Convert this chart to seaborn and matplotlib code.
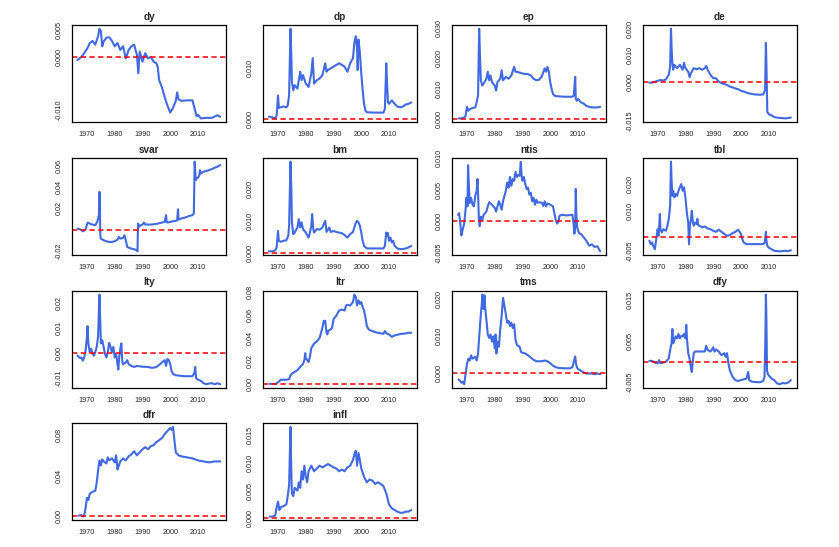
import matplotlib
matplotlib.use("Agg")
import matplotlib.pyplot as plt
import seaborn as sns
import pandas as pd

# ---- data (year, value) ----
dy_years = [1966.6, 1967.5, 1968, 1969, 1970, 1970.5, 1971, 1972, 1973, 1974, 1974.5, 1975, 1975.5, 1976, 1977, 1978, 1979, 1980, 1981, 1982, 1983, 1984, 1985, 1986, 1987, 1987.5, 1988, 1988.5, 1989, 1990, 1991, 1992, 1993, 1994, 1995, 1995.5, 1996, 1997, 1998, 1999, 2000, 2001, 2002, 2002.5, 2003, 2004, 2006, 2008, 2009, 2009.5, 2010, 2011, 2013, 2015, 2017, 2018]
dy_vals = [-0.0006, -0.0002, 0.0000, 0.0007, 0.0015, 0.0020, 0.0026, 0.0030, 0.0023, 0.0039, 0.0053, 0.0049, 0.0020, 0.0029, 0.0036, 0.0037, 0.0030, 0.0020, 0.0026, 0.0013, 0.0020, -0.0003, 0.0013, 0.0020, 0.0023, 0.0013, 0.0004, -0.0031, 0.0010, -0.0009, 0.0007, -0.0003, 0.0000, -0.0009, -0.0012, -0.0019, -0.0044, -0.0057, -0.0076, -0.0092, -0.0105, -0.0096, -0.0083, -0.0067, -0.0080, -0.0083, -0.0082, -0.0082, -0.0102, -0.0112, -0.0109, -0.0116, -0.0115, -0.0115, -0.0110, -0.0113]

dp_years = [1966.7, 1968, 1969, 1969.5, 1970, 1970.3, 1971, 1972, 1973, 1973.5, 1974, 1974.5, 1974.8, 1975, 1975.5, 1976, 1977, 1978, 1978.5, 1979, 1980, 1981, 1982, 1982.5, 1983, 1984, 1985, 1986, 1987, 1987.5, 1988, 1990, 1992, 1993, 1994, 1995, 1996, 1997, 1997.5, 1998, 1998.5, 1998.7, 1999, 1999.5, 2000, 2000.5, 2001, 2001.5, 2002, 2005, 2008, 2008.5, 2009, 2009.3, 2009.6, 2010, 2011, 2012, 2013, 2014, 2015, 2016, 2017, 2018]
dp_vals = [0.00047, 0.00033, 0.00013, 0.00067, 0.00467, 0.0022, 0.00233, 0.00247, 0.00233, 0.00267, 0.00467, 0.0178, 0.01233, 0.00733, 0.00567, 0.00667, 0.006, 0.00933, 0.00767, 0.00867, 0.007, 0.00633, 0.009, 0.012, 0.007, 0.00767, 0.008, 0.00867, 0.011, 0.00933, 0.00967, 0.01033, 0.011, 0.01067, 0.01033, 0.00933, 0.011, 0.012, 0.015, 0.01633, 0.014, 0.00967, 0.01567, 0.013, 0.009, 0.00567, 0.003, 0.00167, 0.00133, 0.00127, 0.00127, 0.002, 0.011, 0.007, 0.00333, 0.003, 0.00367, 0.003, 0.00247, 0.00233, 0.00247, 0.00287, 0.003, 0.00327]

ep_years = [1967, 1968, 1969, 1969.5, 1970, 1970.5, 1971, 1972, 1973, 1973.5, 1974, 1974.4, 1974.7, 1975, 1975.5, 1976, 1977, 1977.5, 1978, 1978.5, 1979, 1980, 1980.5, 1981, 1982, 1982.5, 1983, 1984, 1985, 1986, 1987, 1987.5, 1988, 1990, 1992, 1993, 1994, 1995, 1996, 1997, 1998, 1998.5, 1999, 1999.5, 2000, 2000.5, 2001, 2001.5, 2002, 2005, 2008, 2008.5, 2009, 2009.2, 2009.6, 2010, 2011, 2012, 2013, 2014, 2015, 2017, 2018]
ep_vals = [0.0003, 0.0003, 0.0006, 0.0011, 0.0041, 0.0028, 0.0033, 0.0037, 0.0039, 0.0056, 0.0078, 0.0297, 0.0206, 0.0128, 0.0111, 0.0117, 0.0133, 0.0156, 0.0128, 0.0144, 0.0122, 0.0111, 0.0094, 0.0122, 0.0133, 0.0161, 0.0128, 0.0139, 0.0133, 0.0144, 0.0172, 0.0156, 0.0156, 0.015, 0.0148, 0.0144, 0.0133, 0.0128, 0.013, 0.0141, 0.0167, 0.0156, 0.0172, 0.0156, 0.0122, 0.01, 0.0083, 0.0078, 0.0076, 0.0074, 0.0074, 0.0078, 0.0139, 0.0067, 0.0061, 0.0067, 0.0056, 0.0052, 0.0044, 0.0041, 0.0039, 0.0039, 0.0041]

de_years = [1967, 1968, 1969, 1970, 1971, 1972, 1973, 1974, 1974.5, 1974.8, 1975, 1975.3, 1975.6, 1976, 1977, 1978, 1979, 1979.5, 1980, 1981, 1981.5, 1982, 1983, 1984, 1985, 1986, 1987, 1987.5, 1988, 1989, 1990, 1991, 1992, 1993, 1994, 1995, 1996, 1997, 1998, 1999, 2000, 2001, 2002, 2003, 2005, 2007, 2008, 2008.7, 2009, 2009.2, 2009.5, 2010, 2011, 2012, 2013, 2014, 2016, 2018]
de_vals = [-0.0004, -0.0004, -0.0001, 0.0003, 0.0006, 0.0004, 0.0009, 0.0026, 0.0058, 0.0201, 0.0135, 0.0071, 0.0045, 0.0064, 0.0051, 0.0064, 0.0045, 0.0071, 0.0051, 0.0038, 0.0017, 0.0032, 0.0051, 0.0047, 0.0051, 0.0045, 0.0051, 0.006, 0.0045, 0.0026, 0.0013, 0.0013, 0.0, -0.0006, -0.0009, -0.0013, -0.0019, -0.0022, -0.0026, -0.0029, -0.0035, -0.0038, -0.0042, -0.0045, -0.0049, -0.005, -0.0049, -0.0032, 0.0147, 0.0058, -0.0115, -0.0124, -0.0128, -0.0135, -0.0137, -0.0138, -0.014, -0.0137]

svar_years = [1966.6, 1967.5, 1968, 1968.5, 1969, 1969.5, 1970, 1970.3, 1971, 1972, 1973, 1973.7, 1974, 1974.3, 1974.5, 1974.7, 1974.8, 1975, 1976, 1977, 1978, 1979, 1980, 1981, 1981.5, 1982, 1983, 1983.5, 1984, 1984.5, 1985, 1986, 1987, 1988, 1988.2, 1988.4, 1988.8, 1989, 1990, 1990.5, 1991, 1993, 1995, 1997, 1998, 1998.5, 1998.7, 1999, 2000, 2001, 2002, 2002.5, 2002.8, 2003, 2004, 2005, 2006, 2007, 2008, 2008.5, 2008.8, 2009.2, 2009.5, 2010, 2010.5, 2010.7, 2011, 2012, 2013, 2014, 2015, 2016, 2017, 2018]
svar_vals = [0.0009, 0.0003, -0.0006, -0.0016, -0.0009, 0.0003, 0.0047, 0.0066, 0.0056, 0.0047, 0.0041, 0.0072, 0.0104, 0.0135, 0.0354, 0.0135, -0.0053, -0.0085, -0.01, -0.011, -0.0116, -0.0116, -0.011, -0.0094, -0.0069, -0.0085, -0.0078, -0.0053, -0.01, -0.0163, -0.0169, -0.0179, -0.0185, -0.0194, -0.0204, 0.0056, 0.0025, 0.0035, 0.0047, 0.0066, 0.0047, 0.0047, 0.0053, 0.0066, 0.0072, 0.0135, 0.0072, 0.0066, 0.0072, 0.0078, 0.0082, 0.0088, 0.0191, 0.0094, 0.0104, 0.011, 0.0119, 0.0129, 0.0135, 0.0151, 0.0637, 0.0464, 0.048, 0.0486, 0.0511, 0.0558, 0.0527, 0.0543, 0.0549, 0.0558, 0.0568, 0.058, 0.059, 0.0605]

bm_years = [1966.7, 1968, 1969, 1969.5, 1970, 1970.3, 1971, 1972, 1973, 1973.7, 1974, 1974.5, 1974.8, 1975, 1975.5, 1976, 1977, 1977.5, 1978, 1978.5, 1979, 1980, 1981, 1981.5, 1982, 1982.3, 1982.7, 1983, 1984, 1985, 1986, 1987, 1987.5, 1988, 1988.5, 1989, 1990, 1991, 1992, 1993, 1994, 1995, 1996, 1997, 1998, 1998.5, 1999, 1999.5, 2000, 2000.5, 2001, 2002, 2005, 2008, 2008.5, 2009, 2009.3, 2009.6, 2010, 2010.5, 2011, 2011.5, 2012, 2013, 2014, 2015, 2016, 2017, 2018]
bm_vals = [0.0004, 0.0004, 0.0007, 0.0016, 0.0068, 0.0037, 0.0034, 0.0037, 0.0039, 0.0053, 0.0084, 0.0286, 0.02, 0.0095, 0.0058, 0.0063, 0.0079, 0.0105, 0.0079, 0.0095, 0.0074, 0.0063, 0.0047, 0.0063, 0.0084, 0.0121, 0.0074, 0.0063, 0.0074, 0.0072, 0.0079, 0.01, 0.0065, 0.0072, 0.0079, 0.0065, 0.0068, 0.0065, 0.0063, 0.0061, 0.0055, 0.0047, 0.0058, 0.0065, 0.0093, 0.01, 0.0095, 0.0084, 0.0063, 0.0037, 0.0021, 0.0013, 0.0013, 0.0013, 0.0021, 0.0063, 0.0053, 0.0061, 0.0037, 0.0047, 0.0032, 0.0037, 0.0021, 0.0013, 0.0011, 0.0011, 0.0013, 0.0016, 0.0021]

ntis_years = [1966.8, 1967.2, 1967.6, 1968, 1968.4, 1969, 1969.5, 1969.8, 1970.2, 1970.4, 1970.7, 1971, 1971.5, 1972, 1972.5, 1973, 1973.5, 1973.8, 1974, 1974.3, 1974.6, 1975, 1975.5, 1976, 1977, 1977.5, 1978, 1979, 1980, 1980.5, 1981, 1981.5, 1982, 1982.5, 1983, 1983.5, 1984, 1984.5, 1985, 1985.5, 1986, 1986.5, 1987, 1987.5, 1988, 1988.5, 1989, 1989.4, 1989.7, 1990, 1990.5, 1991, 1991.5, 1992, 1992.5, 1993, 1993.5, 1994, 1994.5, 1995, 1995.5, 1996, 1997, 1997.5, 1998, 1998.5, 1999, 2000, 2001, 2001.5, 2002, 2002.5, 2003, 2003.3, 2004, 2006, 2008, 2008.4, 2008.7, 2009, 2009.2, 2009.4, 2009.7, 2010, 2010.5, 2011, 2012, 2013, 2014, 2015, 2016, 2017, 2018]
ntis_vals = [0.001, 0.00125, -0.0004, -0.00228, -0.00147, -0.0004, 0.0018, 0.0037, 0.00234, 0.00886, 0.0056, 0.00288, 0.0037, 0.0026, 0.00234, 0.004, 0.0048, 0.00668, 0.0045, 0.00016, -0.0008, 0.0007, 0.00016, 0.001, 0.0015, 0.00234, 0.003, 0.0026, 0.0021, 0.0015, 0.00234, 0.00315, 0.0026, 0.0018, 0.00315, 0.004, 0.0048, 0.0061, 0.0053, 0.007, 0.0056, 0.00668, 0.0064, 0.0078, 0.007, 0.0073, 0.0072, 0.0094, 0.0072, 0.0064, 0.007, 0.0059, 0.0051, 0.0053, 0.0042, 0.0045, 0.00315, 0.0037, 0.0026, 0.0034, 0.0029, 0.003, 0.0029, 0.0024, 0.00315, 0.00234, 0.0028, 0.0026, 0.00234, 0.00125, 0.00016, -0.0004, -0.0001, 0.0008, 0.001, 0.0009, 0.001, -0.0004, -0.002, -0.0009, 0.0051, 0.00125, -0.0009, -0.00147, -0.002, -0.002, -0.00255, -0.0031, -0.0039, -0.0037, -0.0041, -0.004, -0.0048]

tbl_years = [1967, 1967.5, 1968, 1968.5, 1969, 1969.5, 1970, 1970.3, 1970.6, 1970.8, 1971, 1971.5, 1972, 1973, 1973.5, 1974, 1974.5, 1974.8, 1975, 1975.3, 1975.6, 1976, 1976.5, 1977, 1977.5, 1978, 1978.5, 1979, 1979.5, 1980, 1980.5, 1981, 1981.3, 1981.6, 1982, 1982.3, 1982.7, 1983, 1983.5, 1984, 1984.3, 1984.6, 1985, 1986, 1987, 1988, 1989, 1990, 1991, 1992, 1993, 1994, 1995, 1996, 1997, 1998, 1999, 1999.5, 2000, 2000.5, 2001, 2002, 2005, 2008, 2008.6, 2009, 2009.2, 2009.5, 2010, 2011, 2012, 2014, 2016, 2017, 2018]
tbl_vals = [-0.0012, -0.0025, -0.0019, -0.0034, -0.0044, -0.0006, 0.0031, 0.0006, 0.005, 0.0088, 0.0031, 0.0019, 0.0031, 0.0025, 0.0044, 0.0069, 0.0119, 0.0284, 0.0219, 0.0156, 0.0175, 0.015, 0.0163, 0.0156, 0.0175, 0.0188, 0.02, 0.0175, 0.0188, 0.015, 0.0094, 0.0056, -0.0025, 0.0044, 0.0069, 0.01, 0.0056, 0.0044, 0.0056, 0.005, 0.0069, 0.0046, 0.0044, 0.0038, 0.0041, 0.0034, 0.0031, 0.0025, 0.0021, 0.0029, 0.0021, 0.0013, 0.0006, 0.0009, 0.0016, 0.0021, 0.0029, 0.0021, 0.0013, -0.0006, -0.0019, -0.0025, -0.0025, -0.0025, -0.0019, 0.0021, -0.0012, -0.0031, -0.0038, -0.0044, -0.005, -0.0052, -0.005, -0.0051, -0.0048]

lty_years = [1966.6, 1967, 1967.5, 1968, 1968.5, 1969, 1969.5, 1970, 1970.2, 1970.5, 1971, 1971.5, 1972, 1972.5, 1973, 1973.5, 1974, 1974.5, 1974.8, 1975, 1975.5, 1976, 1976.5, 1977, 1977.5, 1978, 1978.5, 1979, 1979.5, 1980, 1980.5, 1981, 1981.3, 1981.6, 1982, 1982.4, 1982.7, 1983, 1984, 1984.5, 1985, 1986, 1987, 1988, 1990, 1992, 1993, 1994, 1995, 1996, 1997, 1998, 1998.5, 1999, 1999.5, 2000, 2000.5, 2001, 2002, 2005, 2008, 2008.7, 2009, 2009.3, 2010, 2011, 2012, 2013, 2014, 2015, 2016, 2017, 2018]
lty_vals = [-0.001, -0.0014, -0.0019, -0.0017, -0.003, -0.0017, 0.0011, 0.0066, 0.0108, 0.0039, 0.0004, 0.0018, -0.0003, -0.001, 0.0004, 0.0025, 0.0066, 0.0234, 0.0121, 0.0039, 0.0052, 0.0025, -0.0003, -0.0017, 0.0004, 0.0041, 0.0025, 0.0004, 0.0025, -0.0017, -0.0003, -0.0044, -0.0065, -0.0017, 0.0018, 0.0039, -0.003, -0.0044, -0.0037, -0.0028, -0.0044, -0.0051, -0.0055, -0.0051, -0.0054, -0.0055, -0.0058, -0.0058, -0.0055, -0.0047, -0.0037, -0.0028, -0.0051, -0.0023, -0.0028, -0.0044, -0.0072, -0.0083, -0.0088, -0.0092, -0.0092, -0.0079, -0.0055, -0.0099, -0.0106, -0.011, -0.012, -0.0124, -0.0121, -0.012, -0.0124, -0.012, -0.0124]

ltr_years = [1967, 1968, 1969, 1970, 1970.5, 1971, 1972, 1973, 1974, 1974.5, 1975, 1976, 1977, 1978, 1979, 1979.5, 1979.8, 1980, 1980.5, 1981, 1981.5, 1982, 1983, 1984, 1985, 1985.5, 1986, 1986.5, 1987, 1987.5, 1987.8, 1988, 1989, 1989.5, 1990, 1991, 1992, 1993, 1994, 1994.5, 1995, 1996, 1997, 1997.5, 1998, 1998.5, 1999, 1999.5, 2000, 2000.5, 2001, 2001.5, 2002, 2002.5, 2003, 2004, 2005, 2006, 2007, 2008, 2008.5, 2009, 2010, 2011, 2012, 2013, 2014, 2015, 2016, 2017, 2018]
ltr_vals = [0.0, 0.0, -0.0003, 0.0015, 0.0024, 0.0036, 0.0036, 0.0036, 0.0041, 0.0074, 0.0089, 0.0104, 0.0119, 0.0148, 0.0172, 0.0207, 0.0267, 0.0222, 0.0207, 0.019, 0.0237, 0.0311, 0.035, 0.037, 0.04, 0.0444, 0.0489, 0.0548, 0.0548, 0.0444, 0.043, 0.0459, 0.0474, 0.0489, 0.0563, 0.0593, 0.0637, 0.0646, 0.0637, 0.0681, 0.0687, 0.0681, 0.0711, 0.0776, 0.0756, 0.0681, 0.0726, 0.0696, 0.0711, 0.0667, 0.0637, 0.0578, 0.0504, 0.048, 0.0468, 0.0459, 0.045, 0.0444, 0.0439, 0.0436, 0.0459, 0.0439, 0.043, 0.0409, 0.0421, 0.0427, 0.0433, 0.0436, 0.0439, 0.0444, 0.0444]

tms_years = [1967, 1967.5, 1968, 1968.5, 1969, 1969.5, 1970, 1970.5, 1971, 1971.5, 1972, 1973, 1973.5, 1974, 1974.5, 1975, 1975.3, 1975.6, 1976, 1976.3, 1976.6, 1977, 1977.5, 1978, 1978.5, 1979, 1979.5, 1980, 1980.3, 1980.6, 1981, 1981.5, 1982, 1982.5, 1983, 1983.5, 1984, 1984.5, 1985, 1985.5, 1986, 1986.5, 1987, 1987.5, 1988, 1989, 1989.5, 1990, 1991, 1992, 1993, 1994, 1995, 1996, 1997, 1998, 1999, 2000, 2001, 2002, 2003, 2005, 2007, 2008, 2008.6, 2009, 2009.3, 2009.6, 2010, 2011, 2012, 2013, 2014, 2015, 2016, 2017, 2018]
tms_vals = [-0.0018, -0.0022, -0.0027, -0.0024, -0.0031, -0.0004, 0.0024, 0.0038, 0.0033, 0.0047, 0.0038, 0.0043, 0.0033, 0.0052, 0.0107, 0.0158, 0.0181, 0.0211, 0.0172, 0.0209, 0.0172, 0.0144, 0.0103, 0.0094, 0.0103, 0.0084, 0.0098, 0.0066, 0.0103, 0.0052, 0.0084, 0.007, 0.0117, 0.0154, 0.0202, 0.0181, 0.0158, 0.0135, 0.014, 0.0126, 0.0135, 0.0121, 0.0131, 0.0089, 0.0075, 0.007, 0.0056, 0.0054, 0.0052, 0.0047, 0.0041, 0.0035, 0.0031, 0.0031, 0.0031, 0.0033, 0.0031, 0.0026, 0.0019, 0.0015, 0.0013, 0.0012, 0.0012, 0.0015, 0.0033, 0.0044, 0.0024, 0.0015, 0.001, 0.0006, 0.0001, -0.0002, -0.0002, -0.0002, -0.0004, -0.0002, -0.0004]

dfy_years = [1967, 1968, 1969, 1970, 1970.5, 1971, 1972, 1973, 1974, 1974.5, 1975, 1975.3, 1975.6, 1976, 1976.5, 1977, 1977.5, 1978, 1978.5, 1979, 1979.5, 1980, 1980.3, 1980.6, 1981, 1981.5, 1982, 1982.3, 1982.6, 1983, 1983.5, 1985, 1987, 1987.5, 1988, 1989, 1989.5, 1990, 1990.5, 1991, 1992, 1993, 1994, 1994.5, 1995, 1995.5, 1996, 1997, 1998, 1999, 2000, 2001, 2002, 2002.6, 2003, 2004, 2006, 2007, 2008, 2008.5, 2008.8, 2009, 2009.2, 2009.4, 2009.7, 2010, 2011, 2012, 2013, 2014, 2015, 2016, 2017, 2018]
dfy_vals = [0.0002, 0.0002, -0.0002, -0.0004, 0.0004, -0.0004, -0.0002, 0.0, 0.0008, 0.0029, 0.0045, 0.008, 0.0045, 0.0053, 0.0062, 0.0057, 0.0068, 0.0057, 0.0063, 0.0062, 0.0068, 0.0057, 0.009, 0.0053, 0.0021, 0.0008, -0.0016, -0.0025, -0.0004, 0.0021, 0.0025, 0.0025, 0.0025, 0.0039, 0.0029, 0.0025, 0.0029, 0.0035, 0.0025, 0.003, 0.0025, 0.0016, 0.0021, 0.0012, 0.0021, -0.0004, -0.0021, -0.0037, -0.0045, -0.0047, -0.0045, -0.0043, -0.0041, -0.0025, -0.0045, -0.0049, -0.005, -0.005, -0.0047, -0.0037, 0.0053, 0.0164, 0.0094, -0.0021, -0.003, -0.0033, -0.0041, -0.0045, -0.0053, -0.0055, -0.0052, -0.0053, -0.0051, -0.0045]

dfr_years = [1967, 1968, 1968.5, 1969, 1969.5, 1970, 1970.5, 1971, 1972, 1973, 1973.5, 1974, 1974.5, 1975, 1975.5, 1976, 1977, 1977.5, 1978, 1979, 1980, 1980.5, 1981, 1981.5, 1982, 1983, 1984, 1985, 1986, 1987, 1988, 1989, 1990, 1991, 1992, 1993, 1994, 1995, 1996, 1997, 1998, 1999, 2000, 2000.5, 2001, 2001.5, 2002, 2003, 2004, 2006, 2008, 2009, 2010, 2012, 2014, 2016, 2018]
dfr_vals = [0.0005, 0.001, -0.0005, 0.001, 0.008, 0.018, 0.016, 0.022, 0.024, 0.025, 0.033, 0.045, 0.055, 0.05, 0.056, 0.054, 0.052, 0.058, 0.055, 0.057, 0.053, 0.06, 0.046, 0.05, 0.054, 0.057, 0.055, 0.059, 0.061, 0.064, 0.06, 0.063, 0.066, 0.068, 0.066, 0.069, 0.07, 0.073, 0.075, 0.077, 0.081, 0.084, 0.087, 0.085, 0.088, 0.075, 0.063, 0.06, 0.059, 0.058, 0.057, 0.056, 0.055, 0.054, 0.053, 0.054, 0.054]

infl_years = [1967, 1968, 1969, 1969.5, 1970, 1970.5, 1971, 1972, 1973, 1973.5, 1974, 1974.5, 1974.8, 1975, 1975.5, 1976, 1977, 1977.5, 1978, 1978.5, 1979, 1979.5, 1980, 1980.5, 1981, 1982, 1983, 1984, 1985, 1986, 1987, 1988, 1989, 1990, 1991, 1992, 1993, 1994, 1995, 1996, 1997, 1997.5, 1998, 1998.5, 1999, 1999.5, 2000, 2001, 2002, 2003, 2004, 2005, 2006, 2007, 2008, 2009, 2010, 2011, 2012, 2013, 2014, 2015, 2016, 2017, 2018]
infl_vals = [0.0003, 0.0003, 0.0005, 0.002, 0.003, 0.0015, 0.002, 0.0022, 0.0025, 0.004, 0.006, 0.0165, 0.008, 0.0045, 0.004, 0.0055, 0.005, 0.0065, 0.0055, 0.0085, 0.007, 0.0095, 0.0075, 0.0065, 0.0085, 0.0095, 0.0085, 0.009, 0.0095, 0.0092, 0.0095, 0.0098, 0.0095, 0.0092, 0.009, 0.0085, 0.0088, 0.0085, 0.0092, 0.0095, 0.0105, 0.0115, 0.0122, 0.0095, 0.0118, 0.0105, 0.009, 0.0075, 0.0065, 0.007, 0.0068, 0.0062, 0.0065, 0.0062, 0.0058, 0.0045, 0.0025, 0.0018, 0.0015, 0.0012, 0.001, 0.001, 0.0012, 0.0012, 0.0015]

# y ticks and which labels R kept
dy_yticks = [-0.010, -0.005, 0.000, 0.005]
dy_ylabels = ["-0.010", "", "0.000", "0.005"]
dp_yticks = [0.000, 0.005, 0.010, 0.015]
dp_ylabels = ["0.000", "", "0.010", ""]
ep_yticks = [0.000, 0.005, 0.010, 0.015, 0.020, 0.025, 0.030]
ep_ylabels = ["0.000", "", "0.010", "", "0.020", "", "0.030"]
de_yticks = [-0.015, -0.010, -0.005, 0.000, 0.005, 0.010, 0.015, 0.020]
de_ylabels = ["-0.015", "", "", "0.000", "", "0.010", "", "0.020"]
svar_yticks = [-0.02, 0.00, 0.02, 0.04, 0.06]
svar_ylabels = ["-0.02", "", "0.02", "0.04", "0.06"]
bm_yticks = [0.000, 0.005, 0.010, 0.015, 0.020, 0.025]
bm_ylabels = ["0.000", "", "0.010", "", "0.020", ""]
ntis_yticks = [-0.005, 0.000, 0.005, 0.010]
ntis_ylabels = ["-0.005", "0.000", "0.005", "0.010"]
tbl_yticks = [-0.005, 0.000, 0.005, 0.010, 0.015, 0.020, 0.025]
tbl_ylabels = ["-0.005", "", "", "0.010", "", "0.020", ""]
lty_yticks = [-0.01, 0.00, 0.01, 0.02]
lty_ylabels = ["-0.01", "0.00", "0.01", "0.02"]
ltr_yticks = [0.00, 0.02, 0.04, 0.06, 0.08]
ltr_ylabels = ["0.00", "0.02", "0.04", "0.06", "0.08"]
tms_yticks = [0.000, 0.005, 0.010, 0.015, 0.020]
tms_ylabels = ["0.000", "", "0.010", "", "0.020"]
dfy_yticks = [-0.005, 0.000, 0.005, 0.010, 0.015]
dfy_ylabels = ["-0.005", "", "0.005", "", "0.015"]
dfr_yticks = [0.00, 0.02, 0.04, 0.06, 0.08]
dfr_ylabels = ["0.00", "", "0.04", "", "0.08"]
infl_yticks = [0.000, 0.005, 0.010, 0.015]
infl_ylabels = ["0.000", "0.005", "0.010", "0.015"]

xticks = [1970, 1980, 1990, 2000, 2010]

panels = [
    ("dy", dy_years, dy_vals, dy_yticks, dy_ylabels),
    ("dp", dp_years, dp_vals, dp_yticks, dp_ylabels),
    ("ep", ep_years, ep_vals, ep_yticks, ep_ylabels),
    ("de", de_years, de_vals, de_yticks, de_ylabels),
    ("svar", svar_years, svar_vals, svar_yticks, svar_ylabels),
    ("bm", bm_years, bm_vals, bm_yticks, bm_ylabels),
    ("ntis", ntis_years, ntis_vals, ntis_yticks, ntis_ylabels),
    ("tbl", tbl_years, tbl_vals, tbl_yticks, tbl_ylabels),
    ("lty", lty_years, lty_vals, lty_yticks, lty_ylabels),
    ("ltr", ltr_years, ltr_vals, ltr_yticks, ltr_ylabels),
    ("tms", tms_years, tms_vals, tms_yticks, tms_ylabels),
    ("dfy", dfy_years, dfy_vals, dfy_yticks, dfy_ylabels),
    ("dfr", dfr_years, dfr_vals, dfr_yticks, dfr_ylabels),
    ("infl", infl_years, infl_vals, infl_yticks, infl_ylabels),
]

sns.set_style("white")
plt.rcParams['font.family'] = ['Liberation Sans', 'DejaVu Sans']
plt.rcParams['axes.linewidth'] = 0.9

fig = plt.figure(figsize=(8.39, 5.47), dpi=100)

# panel grid like R's par(mfrow=c(4,4))
lefts = [0.0858, 0.3135, 0.5387, 0.766]
bottoms = [0.777, 0.534, 0.291, 0.049]
W, H = 0.1836, 0.177

for i, (name, yrs, vals, yt, yl) in enumerate(panels):
    r, c = divmod(i, 4)
    ax = fig.add_axes([lefts[c], bottoms[r], W, H])
    df = pd.DataFrame({"year": yrs, "value": vals})
    sns.lineplot(data=df, x="year", y="value", ax=ax, color="#4169E1",
                 linewidth=1.5, estimator=None)
    ax.axhline(0, color="red", linestyle=(0, (3.5, 2.2)), linewidth=1.1)

    # R-style 4% padding on both axes
    lo, hi = min(vals), max(vals)
    pad = 0.04 * (hi - lo)
    ax.set_ylim(lo - pad, hi + pad)
    ax.set_xlim(1964.6, 2020.1)

    ax.set_xticks(xticks)
    ax.set_xticklabels([str(x) for x in xticks])
    ax.set_yticks(yt)
    ax.set_yticklabels(yl, rotation=90, va="center")
    ax.tick_params(axis="both", direction="out", length=2.5, width=0.7,
                   labelsize=5.2, pad=4, colors="#222222")
    for s in ax.spines.values():
        s.set_visible(True)
        s.set_color("black")
    ax.set_xlabel("")
    ax.set_ylabel("")
    ax.set_title(name, fontsize=7.2, fontweight="bold", pad=4)

fig.savefig("out.png", dpi=100)
